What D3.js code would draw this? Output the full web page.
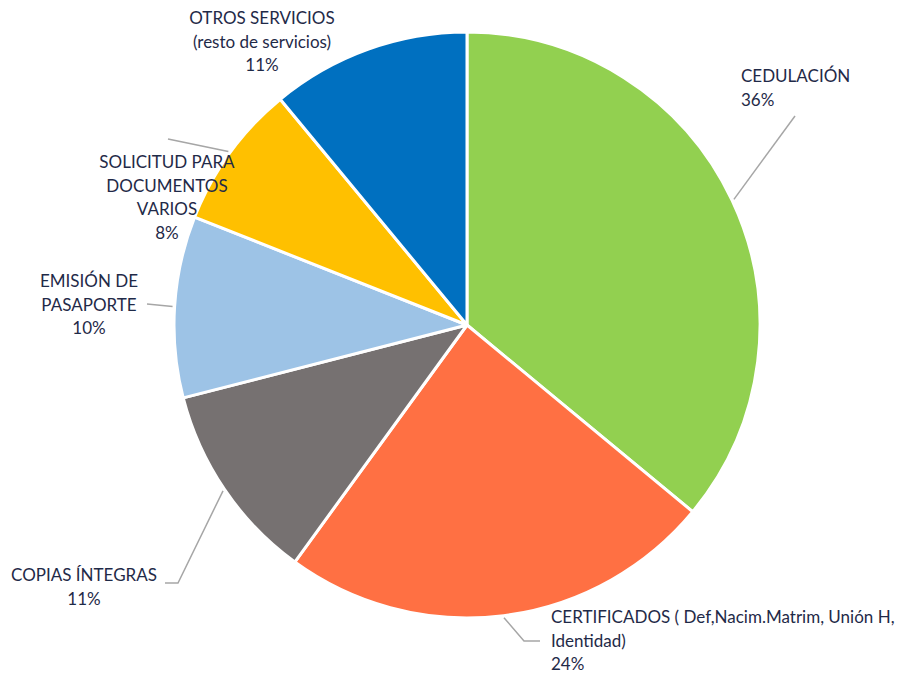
<!DOCTYPE html>
<html>
<head>
<meta charset="utf-8">
<script src="https://cdn.jsdelivr.net/npm/d3@7"></script>
<style>
  body { margin: 0; background: #fff; }
  text { font-family: Lato, "Open Sans", sans-serif; font-size: 17px; fill: #1f2a48; }
</style>
</head>
<body>
<script>
// chart data
var categories = ["CEDULACIÓN", "CERTIFICADOS", "COPIAS ÍNTEGRAS", "EMISIÓN DE PASAPORTE", "SOLICITUD PARA DOCUMENTOS VARIOS", "OTROS SERVICIOS"];
var values = [36, 24, 11, 10, 8, 11];
var labelLines = [
  ["CEDULACIÓN"],
  ["CERTIFICADOS ( Def,Nacim.Matrim, Unión H,", "Identidad)"],
  ["COPIAS ÍNTEGRAS"],
  ["EMISIÓN DE", "PASAPORTE"],
  ["SOLICITUD PARA", "DOCUMENTOS", "VARIOS"],
  ["OTROS SERVICIOS", "(resto de servicios)"]
];
var colors = ["#92d050", "#ff7043", "#767171", "#9dc3e6", "#ffc000", "#0070c0"];

// canvas
var W = 917, H = 677, cx = 467, cy = 325, radius = 293;

// label placement: text anchor point + leader points (label side)
var labelPos = [
  {x: 741, y: 82, anchor: "start", leader: [[795, 116]]},
  {x: 551, y: 623, anchor: "start", leader: [[524, 641], [540, 641]]},
  {x: 84, y: 581, anchor: "middle", leader: [[178, 583], [165, 583]]},
  {x: 89, y: 287, anchor: "middle", leader: [[147, 304]]},
  {x: 167, y: 168, anchor: "middle", leader: [[168, 139]]},
  {x: 262, y: 24, anchor: "middle", leader: null}
];

var data = categories.map(function(c, i) {
  return {cat: c, value: values[i], lines: labelLines[i], color: colors[i], pos: labelPos[i]};
});

var svg = d3.select("body").append("svg")
  .attr("width", W)
  .attr("height", H);

var g = svg.append("g")
  .attr("transform", "translate(" + cx + "," + cy + ")");

var pie = d3.pie()
  .sort(null)
  .value(function(d) { return d.value; });

var arc = d3.arc()
  .innerRadius(0)
  .outerRadius(radius);

var arcs = pie(data);

g.selectAll(".slice")
  .data(arcs)
  .enter().append("path")
  .attr("class", "slice")
  .attr("d", arc)
  .attr("fill", function(d) { return d.data.color; })
  .attr("stroke", "#fff")
  .attr("stroke-width", 3)
  .attr("stroke-linejoin", "round");

// leader lines
var line = d3.line();
svg.selectAll(".leader")
  .data(arcs.filter(function(d) { return d.data.pos.leader; }))
  .enter().append("path")
  .attr("class", "leader")
  .attr("fill", "none")
  .attr("stroke", "#a6a6a6")
  .attr("stroke-width", 1.5)
  .attr("d", function(d) {
    var a = (d.startAngle + d.endAngle) / 2,
        r = radius + 2,
        p0 = [cx + Math.sin(a) * r, cy - Math.cos(a) * r];
    return line([p0].concat(d.data.pos.leader));
  });

// labels
var lineH = 23.5;
var lbl = svg.selectAll(".label")
  .data(arcs)
  .enter().append("text")
  .attr("class", "label")
  .attr("text-anchor", function(d) { return d.data.pos.anchor; });

lbl.each(function(d) {
  var t = d3.select(this);
  var all = d.data.lines.concat([d.data.value + "%"]);
  all.forEach(function(s, i) {
    t.append("tspan")
      .attr("x", d.data.pos.x)
      .attr("y", d.data.pos.y + i * lineH)
      .text(s);
  });
});
</script>
</body>
</html>
